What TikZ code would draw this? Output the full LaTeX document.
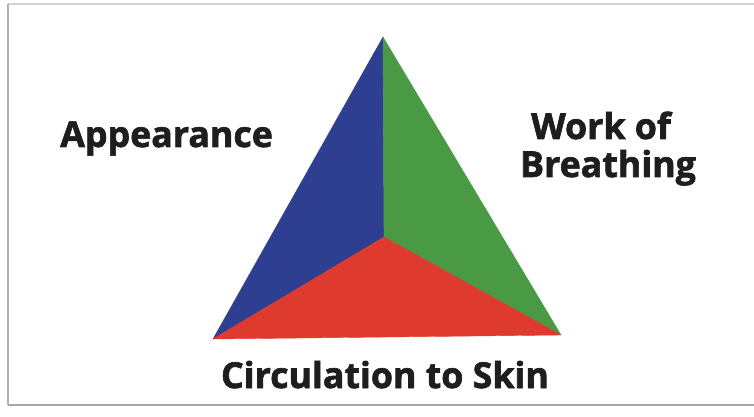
\documentclass[tikz,border=0pt]{standalone}
\usepackage{fontspec}
\setmainfont{Open Sans}[BoldFeatures={FakeBold=1.8}]
\definecolor{triblue}{RGB}{46,63,146}
\definecolor{trigreen}{RGB}{74,154,69}
\definecolor{trired}{RGB}{222,59,46}
\definecolor{labeltext}{RGB}{30,30,30}
\begin{document}
\begin{tikzpicture}[x=0.75pt,y=-0.75pt,
  label text/.style={font=\fontsize{26.8}{29}\selectfont\bfseries, text=labeltext, inner sep=0pt},
  frame line/.style={line width=1.5pt, color=gray!60},
  face/.style={fill=#1, draw=#1, line width=0.3pt, line join=round}]
\useasboundingbox (0,0) rectangle (754,417);
\fill[white] (0,0) rectangle (754,417);
% frame
\coordinate (ftl) at (8,4);
\coordinate (fbl) at (8,405);
\coordinate (ftr) at (754,4);
\coordinate (fbr) at (754,405);
\draw[line width=0.8pt, gray!35] (ftl) -- (ftr);
\draw[frame line] (ftl) -- (fbl);
\draw[line width=1.6pt, gray!70] (fbl) -- (fbr);
% triangle
\coordinate (apex) at (383,37);
\coordinate (bl) at (213,339);
\coordinate (br) at (561,335);
\coordinate (ctr) at (384,237);
\path[face=triblue] (apex) -- (ctr) -- (bl) -- cycle;
\path[face=trigreen] (apex) -- (br) -- (ctr) -- cycle;
\path[face=trired] (bl) -- (ctr) -- (br) -- cycle;
% labels
\node[label text, anchor=base west] (appearance) at (60,147) {Appearance};
\node[label text, anchor=base] (work) at (601,139) {Work of};
\node[label text, anchor=base] (breathing) at (608,177) {Breathing};
\node[label text, anchor=base] (circulation) at (385,388) {Circulation to Skin};
\end{tikzpicture}
\end{document}
